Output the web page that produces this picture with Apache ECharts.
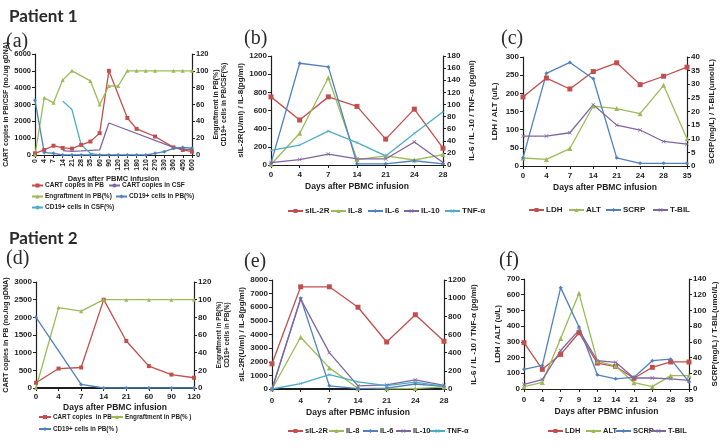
<!DOCTYPE html>
<html>
<head>
<meta charset="utf-8">
<script src="https://cdn.jsdelivr.net/npm/echarts@6/dist/echarts.min.js"></script>
<style>
  html, body { margin: 0; padding: 0; background: #fff; }
  #chart { width: 721px; height: 448px; }
</style>
</head>
<body>
<div id="chart"></div>
<script>
// ---- Patient 1 (a)
const daysA = ['0', '4', '7', '14', '21', '28', '35', '60', '90', '120', '150', '180', '210', '270', '330', '360', '450', '600']
const cartPbA = [100, 300, 550, 420, 380, 600, 800, 1300, 5000, null, 2200, 1550, null, 1100, null, 450, 300, 200]
const cartCsfA = [null, null, null, 260, 220, 240, 270, 300, 1900, null, null, null, null, null, null, 450, 350, 300]
const engraftA = [0, 68, 62, 89, 100, null, 88, 60, 82, 82, 100, 100, 100, 100, null, 100, 100, 100]
const cd19PbA = [65, 3, 2, 0, 0, 0, 0, 0, 0, 0, 0, 0, 0, 2, 4, 8, 9, 8]
const cd19CsfA = [null, null, null, 64, 54, 12, 2, 0]

// ---- Patient 1 (b)
const daysB = ['0', '4', '7', '14', '21', '24', '28']
const sil2rB = [750, 495, 750, 645, 285, 615, 185]
const il8B = [5, 350, 960, 60, 100, 55, 115]
const il6B = [3, 168, 162, 2, 2, 7, 2]
const il10B = [4, 9, 18, 10, 10, 38, 4]
const tnfB = [24, 33, 56, 37, 15, 52, 88]

// ---- Patient 1 (c)
const daysC = ['0', '4', '7', '14', '21', '24', '28', '35']
const ldhC = [190, 242, 212, 260, 284, 224, 247, 272]
const altC = [22, 18, 48, 165, 158, 144, 222, 75]
const scrpC = [3, 34, 38, 32, 3, 1, 1, 1]
const tbilC = [11, 11, 12.2, 22.5, 15, 13.2, 9, 8]

// ---- Patient 2 (d)
const daysD = ['0', '4', '7', '14', '21', '60', '90', '120']
const cartPbD = [150, 550, 580, 2500, 1330, 620, 380, 290]
const engraftD = [0, 91, 87, 100, 100, 100, 100, 100]
const cd19PbD = [80, null, 4, 0, 0, 0, 0, 0]

// ---- Patient 2 (e)
const daysE = ['0', '4', '7', '14', '21', '24', '28']
const sil2rE = [1850, 7500, 7500, 6000, 3450, 5450, 3500]
const il8E = [0, 3800, 1550, 50, 20, 30, 150]
const il6E = [0, 1000, 35, 5, 10, 55, 30]
const il10E = [0, 990, 400, 35, 45, 100, 40]
const tnfE = [0, 60, 158, 78, 38, 75, 30]

// ---- Patient 2 (f)
const daysF = ['0', '4', '7', '9', '12', '14', '21', '24', '28', '35']
const ldhF = [295, 125, 220, 358, 165, 143, 68, 138, 172, 172]
const altF = [15, 42, 322, 609, 178, 146, 40, 15, 85, 85]
const scrpF = [25, 30, 129, 79, 18, 13, 15, 36, 38, 9]
const tbilF = [6, 12, 49, 75, 36, 34, 14, 14, 13, 11]

const RED = '#C0504D'
const GREEN = '#9BBB59'
const BLUE = '#4F81BD'
const PURPLE = '#8064A2'
const CYAN = '#4BACC6'
const INK = '#1e1e1e'
const SANS = '"Liberation Sans", Arial, sans-serif'
const NARROW = '"Liberation Sans Narrow", "Liberation Sans", sans-serif'
const XMARK = 'path://M0,1L1,0L5,4L9,0L10,1L6,5L10,9L9,10L5,6L1,10L0,9L4,5Z'
const DAYS = 'Days after PBMC infusion'

const grids = [
  { left: 35, top: 54, width: 157, height: 101 },
  { left: 271, top: 56, width: 172, height: 109 },
  { left: 523, top: 57, width: 164, height: 109 },
  { left: 36, top: 282, width: 158, height: 106 },
  { left: 272, top: 280, width: 172, height: 109 },
  { left: 524, top: 279, width: 165, height: 110 }
]

// x 轴
function xAx(g, data, o) {
  return {
    type: 'category', gridIndex: g, data: data, boundaryGap: false,
    axisLine: { lineStyle: { color: INK, width: o.lw || 1.2 } },
    axisTick: { show: true, length: 3, lineStyle: { color: INK } },
    axisLabel: {
      interval: 0, color: INK, fontWeight: 'bold', fontFamily: o.font || SANS,
      fontSize: o.fs || 8, margin: o.margin || 6, rotate: o.rotate || 0
    },
    name: DAYS, nameLocation: 'middle', nameGap: o.gap,
    nameTextStyle: { color: INK, fontWeight: 'bold', fontFamily: o.font || SANS, fontSize: o.nfs || 8.5 }
  }
}

// y 轴
function yAx(g, pos, max, step, name, gap, o) {
  o = o || {}
  return {
    type: 'value', gridIndex: g, position: pos, min: 0, max: max, interval: step,
    splitLine: { show: false },
    axisLine: { show: true, lineStyle: { color: INK, width: 1.2 } },
    axisTick: { show: true, length: 3, lineStyle: { color: INK } },
    axisLabel: {
      color: INK, fontWeight: 'bold', fontFamily: o.font || SANS, fontSize: o.fs || 8, margin: o.margin || 4,
      formatter: (v) => String(v)
    },
    name: name, nameLocation: 'middle', nameGap: gap, nameRotate: 90,
    nameTextStyle: {
      color: INK, fontWeight: 'bold', fontFamily: o.nfont || o.font || SANS,
      fontSize: o.nfs || 8, lineHeight: o.lh || 9
    }
  }
}

function line(name, data, color, symbol, g, side, size) {
  return {
    type: 'line', name: name, data: data, xAxisIndex: g, yAxisIndex: g * 2 + side,
    color: color, symbol: symbol, symbolSize: size || 4, connectNulls: true,
    lineStyle: { color: color, width: 1.3 }, itemStyle: { color: color },
    animation: false
  }
}

function leg(name, left, cy, o) {
  o = o || {}
  return {
    data: [name], left: left, top: cy - 5, padding: 0, itemGap: 0,
    itemWidth: o.iw || 15, itemHeight: 5, selectedMode: false,
    textStyle: { color: INK, fontWeight: 'bold', fontFamily: o.font || SANS, fontSize: o.fs || 8, padding: [0, 0, 0, -3] }
  }
}

function label(text, left, top, font) {
  return { type: 'text', left: left, top: top, style: { text: text, font: font, fill: '#2a2a2a' } }
}

const chart = echarts.init(document.getElementById('chart'))

const smallLeg = { fs: 6.5, font: NARROW, iw: 11 }
const legD = { fs: 6.3, font: NARROW, iw: 12 }
const legE = { fs: 7.5, font: NARROW }

const option = {
  backgroundColor: '#fff',
  animation: false,
  grid: grids,
  xAxis: [
    xAx(0, daysA, { rotate: 90, fs: 7, margin: 4, gap: 18, nfs: 7.5, font: NARROW }),
    xAx(1, daysB, { gap: 17 }),
    xAx(2, daysC, { gap: 17 }),
    xAx(3, daysD, { font: NARROW, margin: 5, gap: 15, lw: 2 }),
    xAx(4, daysE, { font: NARROW, margin: 8, gap: 19, lw: 2 }),
    xAx(5, daysF, { font: NARROW, margin: 7, gap: 18 })
  ],
  yAxis: [
    yAx(0, 'left', 6000, 1000, 'CART copies in PB/CSF (no./ug gDNA)', 21, { fs: 7.5, nfont: NARROW, nfs: 6.8 }),
    yAx(0, 'right', 120, 20, 'Engraftment in PB(%)\nCD19+ cells in PB/CSF(%)', 16, { fs: 7.5, nfont: NARROW, nfs: 6.8, lh: 8 }),
    yAx(1, 'left', 1200, 200, 'sIL-2R(U/ml) / IL-8(pg/ml)', 21),
    yAx(1, 'right', 180, 20, 'IL-6 / IL -10 / TNF-α (pg/ml)', 24),
    yAx(2, 'left', 300, 50, 'LDH / ALT (u/L)', 24),
    yAx(2, 'right', 40, 5, 'SCRP(mg/L) / T-BIL(umol/L)', 20),
    yAx(3, 'left', 3000, 500, 'CART copies in PB (no./ug gDNA)', 22, { font: NARROW, nfs: 7.2 }),
    yAx(3, 'right', 120, 20, 'Engraftment in PB(%)\nCD19+ cells in PB(%)', 17, { font: NARROW, nfs: 6.5, lh: 8 }),
    yAx(4, 'left', 8000, 1000, 'sIL-2R(U/ml) / IL-8(pg/ml)', 24, { font: NARROW }),
    yAx(4, 'right', 1200, 200, 'IL-6 / IL -10 / TNF-α (pg/ml)', 23, { font: NARROW }),
    yAx(5, 'left', 700, 100, 'LDH / ALT (u/L)', 20, { font: NARROW }),
    yAx(5, 'right', 140, 20, 'SCRP(mg/L) / T-BIL(umol/L)', 21, { font: NARROW })
  ],
  legend: [
    leg('CART copies in PB', 31, 187, smallLeg),
    leg('CART copies in CSF', 108, 187, smallLeg),
    leg('Engraftment in PB(%)', 31, 198, smallLeg),
    leg('CD19+ cells in PB(%)', 115, 198, smallLeg),
    leg('CD19+ cells in CSF(%)', 31, 209, smallLeg),

    leg('sIL-2R', 287, 212), leg('IL-8', 330, 212), leg('IL-6', 367, 212),
    leg('IL-10', 403, 212), leg('TNF-α', 444, 212),

    leg('LDH', 528, 211), leg('ALT', 568, 211), leg('SCRP', 605, 211), leg('T-BIL', 652, 211),

    leg('CART copies  in PB', 38, 419, legD),
    leg('Engraftment in PB(% )', 110, 419, legD),
    leg('CD19+ cells in PB(% )', 38, 431, legD),

    leg('sIL-2R ', 287, 432, legE), leg('IL-8 ', 328, 432, legE),
    leg('IL-6 ', 362, 432, legE), leg('IL-10 ', 395, 432, legE),
    leg('TNF-α ', 429, 432, legE),

    leg('LDH ', 547, 432, legE), leg('ALT ', 585, 432, legE),
    leg('SCRP ', 615, 432, legE), leg('T-BIL ', 650, 432, legE)
  ],
  graphic: [
    label('Patient 1', 9, 8, 'bold 17px Lato, "Liberation Sans", sans-serif'),
    label('(a)', 6, 32, '20px "Liberation Serif", serif'),
    label('(b)', 244, 29, '20px "Liberation Serif", serif'),
    label('(c)', 501, 29, '20px "Liberation Serif", serif'),
    label('Patient 2', 9, 230, 'bold 17px Lato, "Liberation Sans", sans-serif'),
    label('(d)', 6, 249, '20px "Liberation Serif", serif'),
    label('(e)', 244, 252, '20px "Liberation Serif", serif'),
    label('(f)', 499, 251, '20px "Liberation Serif", serif')
  ],
  series: [
    line('CART copies in PB', cartPbA, RED, 'rect', 0, 0, 4),
    line('CART copies in CSF', cartCsfA, PURPLE, 'none', 0, 0),
    line('Engraftment in PB(%)', engraftA, GREEN, 'triangle', 0, 1, 4),
    line('CD19+ cells in PB(%)', cd19PbA, BLUE, 'diamond', 0, 1, 4),
    line('CD19+ cells in CSF(%)', cd19CsfA, CYAN, 'none', 0, 1),

    line('sIL-2R', sil2rB, RED, 'rect', 1, 0, 5),
    line('IL-8', il8B, GREEN, 'triangle', 1, 0, 5),
    line('IL-6', il6B, BLUE, 'diamond', 1, 1, 4),
    line('IL-10', il10B, PURPLE, XMARK, 1, 1, 4),
    line('TNF-α', tnfB, CYAN, XMARK, 1, 1, 3),

    line('LDH', ldhC, RED, 'rect', 2, 0, 5),
    line('ALT', altC, GREEN, 'triangle', 2, 0, 5),
    line('SCRP', scrpC, BLUE, 'diamond', 2, 1, 4),
    line('T-BIL', tbilC, PURPLE, XMARK, 2, 1, 4),

    line('CART copies  in PB', cartPbD, RED, 'rect', 3, 0, 4),
    line('Engraftment in PB(% )', engraftD, GREEN, 'triangle', 3, 1, 4),
    line('CD19+ cells in PB(% )', cd19PbD, BLUE, 'diamond', 3, 1, 4),

    line('sIL-2R ', sil2rE, RED, 'rect', 4, 0, 5),
    line('IL-8 ', il8E, GREEN, 'triangle', 4, 0, 5),
    line('IL-6 ', il6E, BLUE, 'diamond', 4, 1, 4),
    line('IL-10 ', il10E, PURPLE, XMARK, 4, 1, 4),
    line('TNF-α ', tnfE, CYAN, XMARK, 4, 1, 3),

    line('LDH ', ldhF, RED, 'rect', 5, 0, 5),
    line('ALT ', altF, GREEN, 'triangle', 5, 0, 5),
    line('SCRP ', scrpF, BLUE, 'diamond', 5, 1, 4),
    line('T-BIL ', tbilF, PURPLE, XMARK, 5, 1, 4)
  ]
}

chart.setOption(option)
</script>
</body>
</html>
